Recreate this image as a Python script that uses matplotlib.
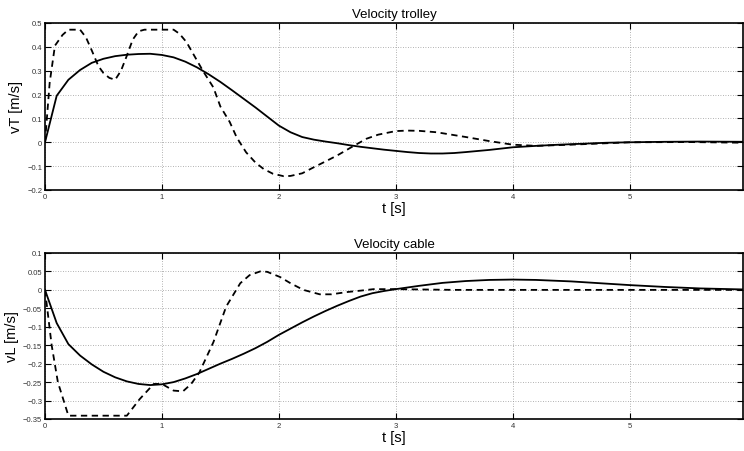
import numpy as np
import matplotlib
matplotlib.use('Agg')
import matplotlib.pyplot as plt
from matplotlib.ticker import FuncFormatter

plt.rcParams['font.family'] = ['Liberation Sans', 'DejaVu Sans']

# trolley velocity, solid (model) and dashed (measured/controlled)
t_vt = [0, 0.1, 0.2, 0.3, 0.4, 0.5, 0.6, 0.7, 0.8, 0.9, 1.0, 1.1, 1.2, 1.3, 1.4, 1.5,
        1.6, 1.7, 1.8, 1.9, 2.0, 2.1, 2.2, 2.3, 2.4, 2.5, 2.6, 2.7, 2.8, 2.9, 3.0, 3.1,
        3.2, 3.3, 3.4, 3.5, 3.6, 3.8, 4.0, 4.2, 4.4, 4.6, 4.8, 5.0, 5.3, 5.6, 6.0]
vt_solid = [0, 0.195, 0.262, 0.303, 0.333, 0.35, 0.361, 0.367, 0.37, 0.371, 0.366, 0.356,
            0.338, 0.314, 0.285, 0.253, 0.218, 0.182, 0.146, 0.108, 0.07, 0.042, 0.022,
            0.011, 0.003, -0.004, -0.012, -0.019, -0.025, -0.031, -0.036, -0.041, -0.045,
            -0.047, -0.047, -0.045, -0.041, -0.032, -0.021, -0.015, -0.01, -0.006, -0.002,
            0.0, 0.002, 0.003, 0.002]

t_vt_d = [0, 0.04, 0.085, 0.15, 0.2, 0.3, 0.35, 0.4, 0.456, 0.5, 0.55, 0.6, 0.65, 0.7,
          0.75, 0.8, 0.85, 1.1, 1.15, 1.21, 1.28, 1.35, 1.44, 1.5, 1.58, 1.64, 1.72, 1.8,
          1.87, 1.95, 2.04, 2.1, 2.2, 2.29, 2.4, 2.5, 2.63, 2.75, 2.85, 3.0, 3.1, 3.2,
          3.35, 3.6, 3.8, 4.0, 4.2, 4.5, 4.8, 5.0, 5.5, 6.0]
vt_dash = [0, 0.25, 0.405, 0.45, 0.472, 0.472, 0.44, 0.385, 0.32, 0.29, 0.27, 0.262, 0.3,
           0.363, 0.43, 0.465, 0.472, 0.472, 0.455, 0.42, 0.36, 0.30, 0.23, 0.15, 0.085,
           0.02, -0.042, -0.085, -0.112, -0.132, -0.142, -0.141, -0.13, -0.107, -0.08,
           -0.055, -0.018, 0.015, 0.032, 0.047, 0.049, 0.048, 0.042, 0.022, 0.005, -0.01,
           -0.015, -0.01, -0.004, 0.0, 0.001, -0.002]

# cable velocity
t_vl = [0, 0.1, 0.2, 0.3, 0.4, 0.5, 0.6, 0.7, 0.8, 0.9, 1.0, 1.1, 1.2, 1.3, 1.4, 1.5,
        1.6, 1.7, 1.8, 1.9, 2.0, 2.1, 2.2, 2.3, 2.4, 2.5, 2.6, 2.7, 2.8, 2.9, 3.0, 3.2,
        3.4, 3.6, 3.8, 4.0, 4.2, 4.5, 4.8, 5.0, 5.3, 5.6, 6.0]
vl_solid = [0, -0.09, -0.147, -0.178, -0.202, -0.222, -0.237, -0.248, -0.255, -0.258,
            -0.256, -0.25, -0.24, -0.228, -0.214, -0.2, -0.187, -0.173, -0.158, -0.141,
            -0.122, -0.105, -0.088, -0.072, -0.057, -0.043, -0.03, -0.018, -0.009, -0.003,
            0.002, 0.011, 0.019, 0.024, 0.027, 0.028, 0.027, 0.023, 0.017, 0.013, 0.008,
            0.004, 0.001]

t_vl_d = [0, 0.057, 0.11, 0.2, 0.7, 0.81, 0.93, 1.0, 1.1, 1.18, 1.25, 1.32, 1.44, 1.55,
          1.67, 1.75, 1.84, 1.9, 2.01, 2.1, 2.21, 2.35, 2.45, 2.58, 2.7, 2.81, 3.0, 3.5,
          6.0]
vl_dash = [0, -0.15, -0.25, -0.341, -0.341, -0.296, -0.255, -0.255, -0.273, -0.275,
           -0.255, -0.224, -0.142, -0.045, 0.018, 0.04, 0.05, 0.049, 0.035, 0.018, 0.0,
           -0.012, -0.012, -0.006, -0.002, 0.002, 0.002, 0.0, 0.0]

panels = [
    ('Velocity trolley', 'vT [m/s]', t_vt, vt_solid, t_vt_d, vt_dash,
     (-0.2, 0.5), np.arange(-0.2, 0.51, 0.1)),
    ('Velocity cable', 'vL [m/s]', t_vl, vl_solid, t_vl_d, vl_dash,
     (-0.35, 0.1), np.arange(-0.35, 0.101, 0.05)),
]

fig = plt.figure(figsize=(7.44, 4.52), dpi=100)
rects = [[45/744, 1-191/452, 698/744, 167/452],
         [45/744, 1-420/452, 698/744, 166/452]]


def tick_fmt(v, p):
    v = round(v, 3) + 0.0
    if v == 0:
        return '0'
    return ('%g' % v).replace('-', '\u2212')


fmt = FuncFormatter(tick_fmt)

for rect, (title, ylab, ts, ys, td, yd, ylim, yticks) in zip(rects, panels):
    ax = fig.add_axes(rect)
    ax.plot(ts, ys, color='black', lw=1.3)
    ax.plot(td, yd, color='black', lw=1.3, ls=(0, (3.5, 2.5)))
    ax.set_xlim(0, 5.97)
    ax.set_ylim(*ylim)
    ax.set_xticks([0, 1, 2, 3, 4, 5])
    ax.set_yticks(yticks)
    ax.yaxis.set_major_formatter(fmt)
    ax.xaxis.set_major_formatter(fmt)
    ax.grid(True, color='#999999', ls=(0, (1, 2)), lw=0.6)
    ax.tick_params(direction='in', length=4, width=0.8, labelsize=5.5,
                   top=True, right=True, pad=2, colors='black', labelcolor='#333333')
    for s in ax.spines.values():
        s.set_linewidth(1.2)
    ax.set_title(title, fontsize=9.5, pad=4)
    ax.set_ylabel(ylab, fontsize=10.5, labelpad=3)
    ax.set_xlabel('t [s]', fontsize=10.5, labelpad=1)

fig.savefig('out.png', dpi=100)
